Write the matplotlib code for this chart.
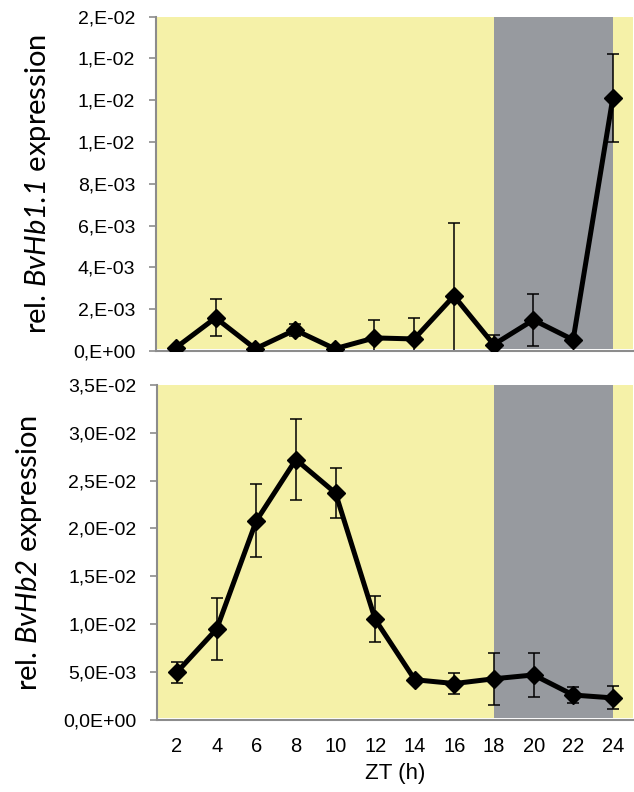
import matplotlib.pyplot as plt

# datos
zt = [2, 4, 6, 8, 10, 12, 14, 16, 18, 20, 22, 24]

hb11 = [0.00015, 0.00158, 0.0001, 0.001, 0.0001, 0.00062, 0.00057, 0.00263,
        0.0003, 0.00148, 0.00053, 0.01212]
hb11_err = [0.0, 0.00088, 0.0, 0.0003, 0.0, 0.00085, 0.001, 0.0035,
            0.00045, 0.00125, 0.0, 0.0021]

hb2 = [0.0050, 0.0095, 0.0208, 0.0272, 0.0237, 0.0105, 0.0042, 0.0038,
       0.0043, 0.0047, 0.0026, 0.0023]
hb2_err = [0.0011, 0.0032, 0.0038, 0.0042, 0.0026, 0.0024, 0.0002, 0.0011,
           0.0027, 0.0023, 0.0008, 0.0012]

ticks_top = [0, 0.002, 0.004, 0.006, 0.008, 0.010, 0.012, 0.014, 0.016]
labels_top = ["0,E+00", "2,E-03", "4,E-03", "6,E-03", "8,E-03",
              "1,E-02", "1,E-02", "1,E-02", "2,E-02"]
ticks_bot = [0, 0.005, 0.010, 0.015, 0.020, 0.025, 0.030, 0.035]
labels_bot = ["0,0E+00", "5,0E-03", "1,0E-02", "1,5E-02", "2,0E-02",
              "2,5E-02", "3,0E-02", "3,5E-02"]

noche = (18, 24)
amarillo = "#f5f1a8"
gris = "#979a9f"
eje = "#8c8c8c"

plt.rcParams["font.family"] = ["Liberation Sans", "DejaVu Sans"]
# la parte en cursiva (nombre del gen) va en mathtext, todo en italica
plt.rcParams["mathtext.fontset"] = "custom"
plt.rcParams["mathtext.rm"] = "Lato:italic"
plt.rcParams["mathtext.it"] = "Lato:italic"

fig = plt.figure(figsize=(6.34, 7.92), dpi=100)
ax1 = fig.add_axes([0.246, 0.557, 0.752, 0.422])
ax2 = fig.add_axes([0.248, 0.091, 0.750, 0.423])


def panel(ax, y, err, ymax, ticks, labels, gen, xlabels):
    ax.set_xlim(1, 25)
    ax.set_ylim(0, ymax)
    ax.axvspan(1, 25, ymin=0.005, ymax=1, color=amarillo, lw=0, zorder=0)
    ax.axvspan(noche[0], noche[1], ymin=0.005, ymax=1, color=gris, lw=0, zorder=1)
    ax.errorbar(zt, y, yerr=err, fmt="none", ecolor="black", elinewidth=1.1,
                capsize=4, capthick=1.1, zorder=2)
    ax.plot(zt, y, color="black", lw=3.6, marker="D", markersize=9, zorder=3)
    for s in ["top", "right"]:
        ax.spines[s].set_visible(False)
    for s in ["left", "bottom"]:
        ax.spines[s].set_color(eje)
        ax.spines[s].set_linewidth(1.5)
    ax.set_yticks(ticks)
    ax.set_yticklabels(labels, fontsize=14)
    ax.tick_params(axis="y", length=5, color=eje, width=1.2, pad=10)
    ax.set_xticks(zt)
    ax.tick_params(axis="x", length=0, pad=12)
    if xlabels:
        ax.set_xticklabels([str(v) for v in zt], fontsize=14.5)
        ax.set_xlabel("ZT (h)", fontsize=16, labelpad=5)
    else:
        ax.set_xticklabels([])
    ax.set_ylabel("rel. $" + gen + "$ expression", fontsize=21,
                  family="Lato", labelpad=14)


panel(ax1, hb11, hb11_err, 0.016, ticks_top, labels_top, "BvHb1.1", False)
panel(ax2, hb2, hb2_err, 0.035, ticks_bot, labels_bot, "BvHb2", True)

fig.savefig("out.png", dpi=100)
